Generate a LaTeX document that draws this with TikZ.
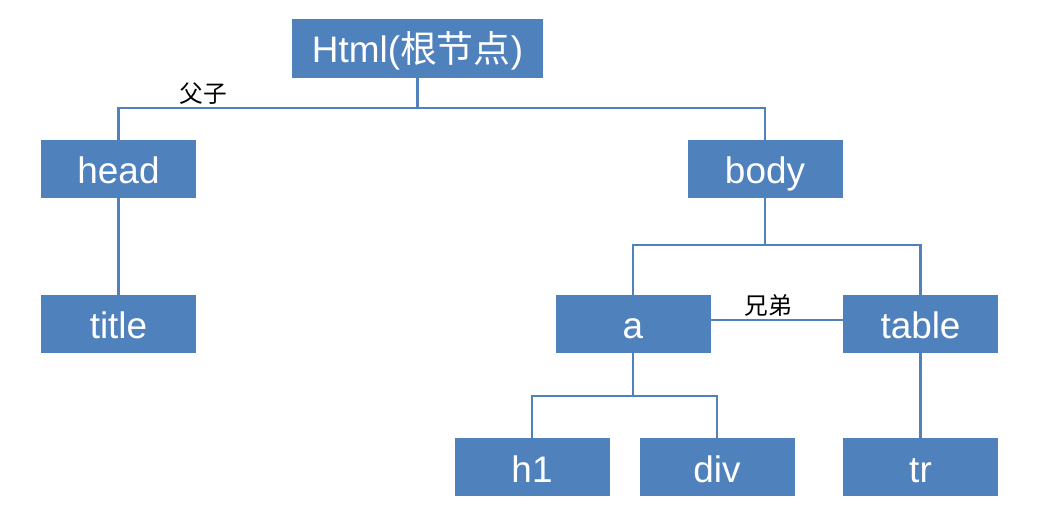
\documentclass[tikz,border=0pt]{standalone}
\usepackage{fontspec}
\setmainfont{Liberation Sans}
\newfontfamily\cjk{Noto Sans CJK SC}
\usepackage{xcolor}
\usepackage{tikz}
\usetikzlibrary{positioning}
\definecolor{boxblue}{HTML}{4F81BD}
\tikzstyle{treebox} = [rectangle, fill=boxblue, text=white, inner sep=0pt, minimum width=3.1cm, minimum height=1.16cm, text height=17pt, text depth=0pt, font=\fontsize{21}{25}\selectfont]
\tikzstyle{link} = [draw=boxblue, line width=1.4pt]
\tikzstyle{relname} = [font=\cjk\fontsize{13.5}{16}\selectfont, text=black]

\begin{document}
\begin{tikzpicture}
	\useasboundingbox (0,0) rectangle (20.9,10.28);
	\coordinate (html) at (8.35,9.31);
	\coordinate (head) at (2.37,6.90);
	\coordinate (body) at (15.30,6.90);
	\coordinate (title) at (2.37,3.80);
	\coordinate (a) at (12.66,3.80);
	\coordinate (table) at (18.41,3.80);
	\coordinate (h1) at (10.64,0.93);
	\coordinate (div) at (14.34,0.93);
	\coordinate (tr) at (18.41,0.93);
	% Tree nodes
	\begin{scope}[every node/.style={treebox}]
	\node[name=html, minimum width=5.02cm, minimum height=1.18cm, text height=16pt] at (html) {Html({\cjk 根节点})};
	\node[name=head] at (head) {head};
	\node[name=body] at (body) {body};
	\node[name=title] at (title) {title};
	\node[name=a] at (a) {a};
	\node[name=table] at (table) {table};
	\node[name=h1] at (h1) {h1};
	\node[name=div] at (div) {div};
	\node[name=tr] at (tr) {tr};
	\end{scope}
	% Joints
	\coordinate (htmljoin) at (8.35,8.12);
	\coordinate (bodyjoin) at (15.30,5.38);
	\coordinate (ajoin) at (12.66,2.36);
	% Connectors
	\draw [link] (html) -- (htmljoin);
	\draw [link] (head) |- (htmljoin) -| (body);
	\draw [link] (head) -- (title);
	\draw [link] (body) -- (bodyjoin);
	\draw [link] (a) |- (bodyjoin) -| (table);
	\draw [link] (a.east) ++(0,0.08) coordinate (aeast) -- (aeast -| table.west);
	\draw [link] (a) -- (ajoin);
	\draw [link] (h1) |- (ajoin) -| (div);
	\draw [link] (table) -- (tr);
	% Labels
	\node[relname, name=parentlabel] at (4.06,8.40) {父子};
	\node[relname, name=siblinglabel] at (15.36,4.18) {兄弟};
\end{tikzpicture}
\end{document}
